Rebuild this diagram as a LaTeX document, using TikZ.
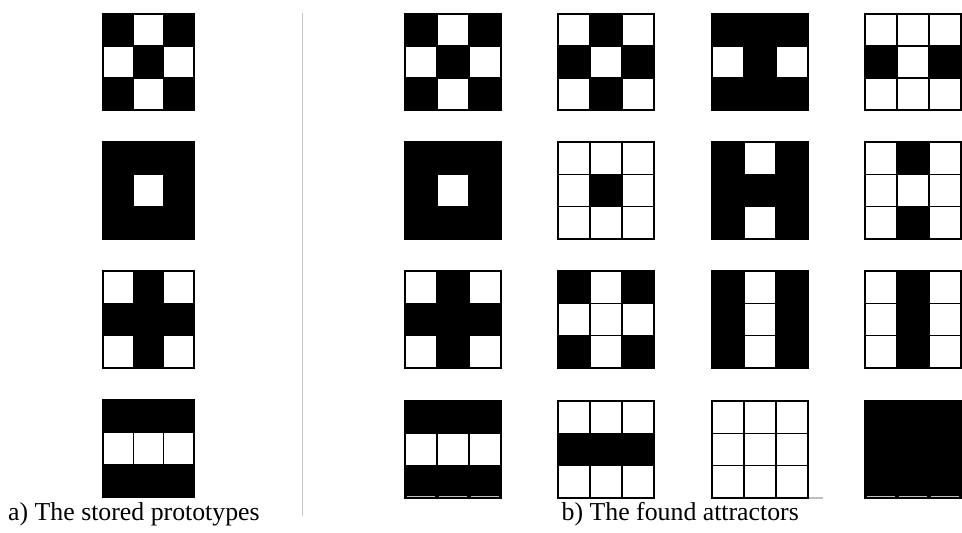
\documentclass[tikz,border=0pt]{standalone}
\usepackage{fontspec}
\setmainfont{Liberation Serif}
\newcommand\cellgrid[5]{% x y w h pattern
  \foreach \v [count=\i from 0] in {#5} {
    \pgfmathtruncatemacro\rr{int(\i/3)}
    \pgfmathtruncatemacro\cc{mod(\i,3)}
    \ifnum\v=1 \fill[black] ({#1+\cc*#3/3},{#2+\rr*#4/3}) rectangle ++({#3/3},{#4/3}); \fi
  }
  \foreach \k in {0,1,2,3} {
    \draw[gridline] ({#1+\k*#3/3},#2) -- ++(0,#4);
    \draw[gridline] (#1,{#2+\k*#4/3}) -- ++(#3,0);
  }
}
\newcommand\bottomglare[3]{% x y w
  \foreach \k in {0,1,2} {
    \draw[glare] ({#1+\k*#3/3+2},{#2-1.5}) -- ++({#3/3-4},0);
  }
}
\begin{document}
\begin{tikzpicture}[x=1pt,y=-1pt,
  gridline/.style={line width=1.3pt,draw=black,line cap=rect},
  glare/.style={draw=black!25,line width=1.2pt},
  sep/.style={draw=black!22,line width=1.6pt},
  captext/.style={anchor=base west,inner sep=0pt,font=\fontsize{25.8}{30}\selectfont}]
\useasboundingbox[fill=white] (0,0) rectangle (962,533);
% left column: stored prototypes
\cellgrid{103}{14}{91}{96}{1,0,1,0,1,0,1,0,1}
\cellgrid{103}{142}{91}{97}{1,1,1,1,0,1,1,1,1}
\cellgrid{103}{271}{91}{97}{0,1,0,1,1,1,0,1,0}
\cellgrid{103}{400}{91}{97}{1,1,1,0,0,0,1,1,1}
% separator
\draw[sep] (302.5,13) -- (302.5,516);
% right: found attractors, row 1
\cellgrid{405}{14}{96}{96}{1,0,1,0,1,0,1,0,1}
\cellgrid{558}{14}{96}{96}{0,1,0,1,0,1,0,1,0}
\cellgrid{712}{14}{96}{96}{1,1,1,0,1,0,1,1,1}
\cellgrid{865}{14}{96}{96}{0,0,0,1,0,1,0,0,0}
% row 2
\cellgrid{405}{142}{96}{97}{1,1,1,1,0,1,1,1,1}
\cellgrid{558}{142}{96}{97}{0,0,0,0,1,0,0,0,0}
\cellgrid{712}{142}{96}{97}{1,0,1,1,1,1,1,0,1}
\cellgrid{865}{142}{96}{97}{0,1,0,0,0,0,0,1,0}
% row 3
\cellgrid{405}{271}{96}{97}{0,1,0,1,1,1,0,1,0}
\cellgrid{558}{271}{96}{97}{1,0,1,0,0,0,1,0,1}
\cellgrid{712}{271}{96}{97}{1,0,1,1,0,1,1,0,1}
\cellgrid{865}{271}{96}{97}{0,1,0,0,1,0,0,1,0}
% row 4
\cellgrid{405}{401}{96}{97}{1,1,1,0,0,0,1,1,1}
\cellgrid{558}{401}{96}{97}{0,0,0,1,1,1,0,0,0}
\cellgrid{712}{401}{96}{97}{0,0,0,0,0,0,0,0,0}
\cellgrid{865}{401}{96}{97}{1,1,1,1,1,1,1,1,1}
\bottomglare{405}{498}{96}
\bottomglare{865}{498}{96}
\draw[glare] (809,498) -- (823,498);
% captions
\node[captext] (capa) at (8,520) {a) The stored prototypes};
\node[captext] (capb) at (561.5,520) {b) The found attractors};
\end{tikzpicture}
\end{document}
